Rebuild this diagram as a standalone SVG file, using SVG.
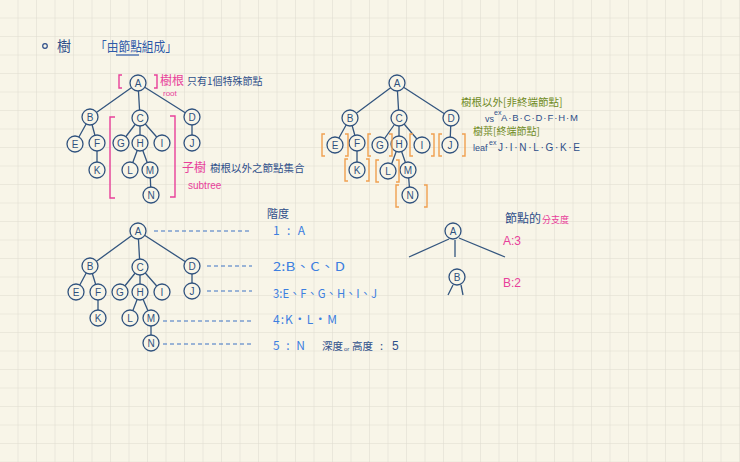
<svg xmlns="http://www.w3.org/2000/svg" width="740" height="462" viewBox="0 0 740 462">
<defs>
<pattern id="grid" width="18.5" height="18.5" patternUnits="userSpaceOnUse">
<rect width="18.5" height="18.5" fill="#f8f5e8"/>
<path d="M18.5 0 V18.5 M0 18.5 H18.5" stroke="#dedbcf" stroke-width="1" fill="none"/>
</pattern>
<style>
.node circle{fill:#f8f5e8;stroke:#30527e;stroke-width:1.3}
.node text{font-family:"Liberation Sans",sans-serif;font-size:10px;fill:#30527e;text-anchor:middle}
.edge{stroke:#34567f;stroke-width:1.3;fill:none}
.dash{stroke:#3d72c4;stroke-width:1;stroke-dasharray:4 3;fill:none}
.pb{stroke:#e8409a;stroke-width:1.4;fill:none}
.ob{stroke:#f0a050;stroke-width:1.4;fill:none}
.cjk{font-family:"Noto Sans CJK TC","Liberation Sans",sans-serif}
.lat{font-family:"Liberation Sans","Noto Sans CJK TC",sans-serif}
.dk{fill:#2f4f8a}
.bl{fill:#3d7fe0}
.pk{fill:#e8409a}
.gr{fill:#6f8a1e}
</style>
</defs>
<rect width="740" height="462" fill="url(#grid)"/>

<!-- header -->
<g id="header">
<circle cx="45" cy="46" r="2.3" fill="none" stroke="#2f4f8a" stroke-width="1.2"/>
<text x="57" y="51" class="cjk dk" font-size="14">樹</text>
<text x="95" y="51" class="cjk" font-size="13" fill="#2e5aa8" textLength="82" lengthAdjust="spacingAndGlyphs">「由節點組成」</text>
<line x1="116" y1="55" x2="139" y2="55" stroke="#2e5aa8" stroke-width="1.2"/>
</g>

<!-- connectors -->
<g id="connectors">
<!-- tree 1 -->
<path class="edge" d="M138 83 L90 117 M138 83 L140 118 M138 83 L192 117 M90 117 L75 144 M90 117 L97 143 M97 143 L97 170 M140 118 L121 143 M140 118 L140 143 M140 118 L162 143 M140 143 L130 170 M140 143 L150 170 M150 170 L151 195 M192 117 L192 143"/>
<!-- tree 2 -->
<path class="edge" d="M397 83 L350 118 M397 83 L399 118 M397 83 L451 118 M350 118 L335 145 M350 118 L357 143 M357 143 L357 170 M399 118 L380 145 M399 118 L399 144 M399 118 L422 145 M399 144 L389 171 M399 144 L408 170 M408 170 L410 194 M451 118 L450 145"/>
<!-- tree 3 -->
<path class="edge" d="M138 231 L90 266 M138 231 L140 267 M138 231 L192 266 M90 266 L76 292 M90 266 L98 292 M98 292 L98 318 M140 267 L120 292 M140 267 L140 292 M140 267 L162 292 M140 292 L130 318 M140 292 L151 318 M151 318 L151 343 M192 266 L192 291"/>
<path class="dash" d="M154 231 H252 M207 266 H252 M207 291 H252 M163 321 H252 M163 344 H252"/>
<!-- small tree -->
<path class="edge" d="M449 239 L409 257 M455 240 L455 257 M459 238 L505 257 M453 285 L448 295 M461 285 L463 295"/>
</g>

<!-- tree 1 nodes -->
<g id="t1-A" class="node"><circle cx="138" cy="83" r="8"/><text x="138" y="86.5">A</text></g>
<g id="t1-B" class="node"><circle cx="90" cy="117" r="8"/><text x="90" y="120.5">B</text></g>
<g id="t1-C" class="node"><circle cx="140" cy="118" r="8"/><text x="140" y="121.5">C</text></g>
<g id="t1-D" class="node"><circle cx="192" cy="117" r="8"/><text x="192" y="120.5">D</text></g>
<g id="t1-E" class="node"><circle cx="75" cy="144" r="8"/><text x="75" y="147.5">E</text></g>
<g id="t1-F" class="node"><circle cx="97" cy="143" r="8"/><text x="97" y="146.5">F</text></g>
<g id="t1-G" class="node"><circle cx="121" cy="143" r="8"/><text x="121" y="146.5">G</text></g>
<g id="t1-H" class="node"><circle cx="140" cy="143" r="8"/><text x="140" y="146.5">H</text></g>
<g id="t1-I" class="node"><circle cx="162" cy="143" r="8"/><text x="162" y="146.5">I</text></g>
<g id="t1-J" class="node"><circle cx="192" cy="143" r="8"/><text x="192" y="146.5">J</text></g>
<g id="t1-K" class="node"><circle cx="97" cy="170" r="8"/><text x="97" y="173.5">K</text></g>
<g id="t1-L" class="node"><circle cx="130" cy="170" r="8"/><text x="130" y="173.5">L</text></g>
<g id="t1-M" class="node"><circle cx="150" cy="170" r="8"/><text x="150" y="173.5">M</text></g>
<g id="t1-N" class="node"><circle cx="151" cy="195" r="8"/><text x="151" y="198.5">N</text></g>

<!-- tree 1 annotations -->
<g id="root-note">
<path class="pb" d="M122 75 H119 V88 H122 M154 75 H157 V88 H154"/>
<text x="160" y="85" class="cjk pk" font-size="12">樹根</text>
<text x="163" y="96" class="lat pk" font-size="8">root</text>
<text x="187" y="85" class="cjk dk" font-size="10">只有1個特殊節點</text>
</g>
<g id="subtree-note">
<path class="pb" d="M115 117 H110 V198 H115 M170 116 H175 V197 H170"/>
<text x="182" y="172" class="cjk pk" font-size="12">子樹</text>
<text x="210" y="172" class="cjk dk" font-size="10.5">樹根以外之節點集合</text>
<text x="188" y="189" class="lat pk" font-size="10">subtree</text>
</g>

<!-- tree 2 nodes -->
<g id="t2-A" class="node"><circle cx="397" cy="83" r="8"/><text x="397" y="86.5">A</text></g>
<g id="t2-B" class="node"><circle cx="350" cy="118" r="8"/><text x="350" y="121.5">B</text></g>
<g id="t2-C" class="node"><circle cx="399" cy="118" r="8"/><text x="399" y="121.5">C</text></g>
<g id="t2-D" class="node"><circle cx="451" cy="118" r="8"/><text x="451" y="121.5">D</text></g>
<g id="t2-E" class="node"><circle cx="335" cy="145" r="8"/><text x="335" y="148.5">E</text></g>
<g id="t2-F" class="node"><circle cx="357" cy="143" r="8"/><text x="357" y="146.5">F</text></g>
<g id="t2-G" class="node"><circle cx="380" cy="145" r="8"/><text x="380" y="148.5">G</text></g>
<g id="t2-H" class="node"><circle cx="399" cy="144" r="8"/><text x="399" y="147.5">H</text></g>
<g id="t2-I" class="node"><circle cx="422" cy="145" r="8"/><text x="422" y="148.5">I</text></g>
<g id="t2-J" class="node"><circle cx="450" cy="145" r="8"/><text x="450" y="148.5">J</text></g>
<g id="t2-K" class="node"><circle cx="357" cy="170" r="8"/><text x="357" y="173.5">K</text></g>
<g id="t2-L" class="node"><circle cx="388" cy="171" r="8"/><text x="388" y="174.5">L</text></g>
<g id="t2-M" class="node"><circle cx="408" cy="170" r="8"/><text x="408" y="173.5">M</text></g>
<g id="t2-N" class="node"><circle cx="410" cy="195" r="8"/><text x="410" y="198.5">N</text></g>

<!-- tree 2 leaf brackets -->
<g id="leaf-brackets">
<path class="ob" d="M325 134 H322 V156 H325 M345 134 H348 V156 H345"/>
<path class="ob" d="M371 134 H368 V156 H371 M389 134 H392 V156 H389"/>
<path class="ob" d="M413 134 H410 V156 H413 M431 134 H434 V156 H431"/>
<path class="ob" d="M442 134 H439 V156 H442 M462 134 H465 V156 H462"/>
<path class="ob" d="M348 159 H345 V181 H348 M366 159 H369 V181 H366"/>
<path class="ob" d="M379 160 H376 V182 H379 M396 160 H399 V182 H396"/>
<path class="ob" d="M399 185 H396 V207 H399 M424 185 H427 V207 H424"/>
</g>

<!-- tree 2 annotations -->
<g id="nonleaf-note">
<text x="461" y="106" class="cjk gr" font-size="10.5">樹根以外[非終端節點]</text>
<text x="485" y="122" class="lat dk" font-size="9">vs</text>
<text x="494" y="115" class="lat dk" font-size="7">ex</text>
<text x="501" y="121" class="lat dk" font-size="9.5" textLength="77" lengthAdjust="spacing">A·B·C·D·F·H·M</text>
</g>
<g id="leaf-note">
<text x="473" y="135" class="cjk gr" font-size="10">樹葉[終端節點]</text>
<text x="473" y="151" class="lat dk" font-size="9">leaf</text>
<text x="489" y="145" class="lat dk" font-size="7">ex</text>
<text x="498" y="151" class="lat dk" font-size="10" textLength="82" lengthAdjust="spacing">J·I·N·L·G·K·E</text>
</g>

<!-- tree 3 nodes -->
<g id="t3-A" class="node"><circle cx="138" cy="231" r="8"/><text x="138" y="234.5">A</text></g>
<g id="t3-B" class="node"><circle cx="90" cy="266" r="8"/><text x="90" y="269.5">B</text></g>
<g id="t3-C" class="node"><circle cx="140" cy="267" r="8"/><text x="140" y="270.5">C</text></g>
<g id="t3-D" class="node"><circle cx="192" cy="266" r="8"/><text x="192" y="269.5">D</text></g>
<g id="t3-E" class="node"><circle cx="76" cy="292" r="8"/><text x="76" y="295.5">E</text></g>
<g id="t3-F" class="node"><circle cx="98" cy="292" r="8"/><text x="98" y="295.5">F</text></g>
<g id="t3-G" class="node"><circle cx="120" cy="292" r="8"/><text x="120" y="295.5">G</text></g>
<g id="t3-H" class="node"><circle cx="140" cy="292" r="8"/><text x="140" y="295.5">H</text></g>
<g id="t3-I" class="node"><circle cx="162" cy="292" r="8"/><text x="162" y="295.5">I</text></g>
<g id="t3-J" class="node"><circle cx="192" cy="291" r="8"/><text x="192" y="294.5">J</text></g>
<g id="t3-K" class="node"><circle cx="98" cy="318" r="8"/><text x="98" y="321.5">K</text></g>
<g id="t3-L" class="node"><circle cx="130" cy="318" r="8"/><text x="130" y="321.5">L</text></g>
<g id="t3-M" class="node"><circle cx="151" cy="318" r="8"/><text x="151" y="321.5">M</text></g>
<g id="t3-N" class="node"><circle cx="151" cy="343" r="8"/><text x="151" y="346.5">N</text></g>

<!-- level labels -->
<g id="levels">
<text x="267" y="218" class="cjk dk" font-size="11">階度</text>
<text x="273" y="235" class="cjk bl" font-size="12" textLength="32" lengthAdjust="spacing">1:A</text>
<text x="273" y="271" class="cjk bl" font-size="12" textLength="72" lengthAdjust="spacingAndGlyphs">2:B、C、D</text>
<text x="273" y="298" class="cjk bl" font-size="12" textLength="104" lengthAdjust="spacingAndGlyphs">3:E、F、G、H、I、J</text>
<text x="273" y="324" class="cjk bl" font-size="12" textLength="64" lengthAdjust="spacing">4:K·L·M</text>
<text x="273" y="350" class="cjk bl" font-size="12" textLength="32" lengthAdjust="spacing">5:N</text>
<text x="322" y="350" class="cjk dk" font-size="10.5">深度</text>
<text x="344" y="351" class="lat dk" font-size="6">or</text>
<text x="352" y="350" class="cjk dk" font-size="10.5">高度</text>
<text x="380" y="350" class="cjk dk" font-size="11">:</text>
<text x="392" y="350" class="lat dk" font-size="12">5</text>
</g>

<!-- small tree -->
<g id="s-A" class="node"><circle cx="453" cy="231" r="8"/><text x="453" y="234.5">A</text></g>
<g id="s-B" class="node"><circle cx="457" cy="277" r="8"/><text x="457" y="280.5">B</text></g>
<g id="degree-note">
<text x="505" y="223" class="cjk dk" font-size="12">節點的</text>
<text x="542" y="223" class="cjk pk" font-size="9">分支度</text>
<text x="503" y="245" class="lat pk" font-size="12">A:3</text>
<text x="503" y="287" class="lat pk" font-size="12">B:2</text>
</g>
</svg>
